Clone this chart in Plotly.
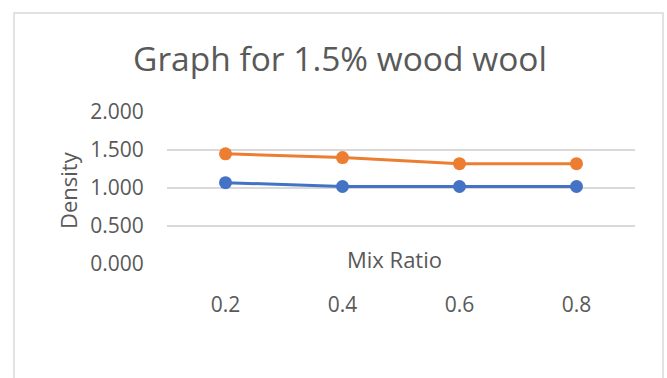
import plotly.graph_objects as go

# Mix ratios (category axis) and measured densities for the two series
mix_ratio = ["0.2", "0.4", "0.6", "0.8"]
density_blue = [1.07, 1.02, 1.02, 1.02]
density_orange = [1.45, 1.40, 1.32, 1.32]

y_ticks = [0.0, 0.5, 1.0, 1.5, 2.0]

BLUE = "#4472C4"
ORANGE = "#ED7D31"
TEXT = "#595959"
GRID = "#D9D9D9"
FONT = "Open Sans"

W, H = 667, 378
L, R, T, B = 167, 32, 112, 114
pw = W - L - R
ph = H - T - B


def px_x(x):
    return (x - L) / pw


def px_y(y):
    return (H - B - y) / ph


fig = go.Figure()
for vals, col in [(density_blue, BLUE), (density_orange, ORANGE)]:
    fig.add_trace(go.Scatter(
        x=mix_ratio, y=vals, mode="lines+markers",
        line=dict(color=col, width=3),
        marker=dict(color=col, size=13),
        showlegend=False, hoverinfo="x+y",
    ))

fig.update_layout(
    width=W, height=H,
    margin=dict(l=L, r=R, t=T, b=B),
    paper_bgcolor="white", plot_bgcolor="white",
    font=dict(family=FONT, color=TEXT, size=21),
    title=dict(
        text="Graph for 1.5% wood wool",
        font=dict(family=FONT, size=33.5, color=TEXT),
        x=340 / W, xanchor="center",
        y=1 - 59 / H, yanchor="middle",
    ),
    xaxis=dict(
        type="category", range=[-0.5, 3.5],
        showgrid=False, zeroline=False, showline=False,
        ticks="outside", ticklen=22, tickcolor="rgba(0,0,0,0)",
        tickfont=dict(family=FONT, size=21, color=TEXT),
        fixedrange=True,
    ),
    yaxis=dict(
        range=[0, 2], tickvals=y_ticks, tickformat=".3f",
        showgrid=True, gridcolor=GRID, gridwidth=1.5,
        zeroline=False, showline=False,
        ticks="outside", ticklen=18, tickcolor="rgba(0,0,0,0)",
        tickfont=dict(family=FONT, size=21, color=TEXT),
        fixedrange=True,
    ),
    annotations=[
        dict(text="Mix Ratio", xref="paper", yref="paper",
             x=px_x(394), y=px_y(259), xanchor="center", yanchor="middle",
             showarrow=False, font=dict(family=FONT, size=22, color=TEXT)),
        dict(text="Density", xref="paper", yref="paper",
             x=px_x(68), y=px_y(190), xanchor="center", yanchor="middle",
             textangle=-90, showarrow=False,
             font=dict(family=FONT, size=22, color=TEXT)),
    ],
    shapes=[
        dict(type="rect", xref="paper", yref="paper",
             x0=px_x(14), x1=px_x(663), y0=px_y(420), y1=px_y(13),
             line=dict(color=GRID, width=1.5), fillcolor="rgba(0,0,0,0)",
             layer="below"),
    ],
)

fig.write_html("out.html")
